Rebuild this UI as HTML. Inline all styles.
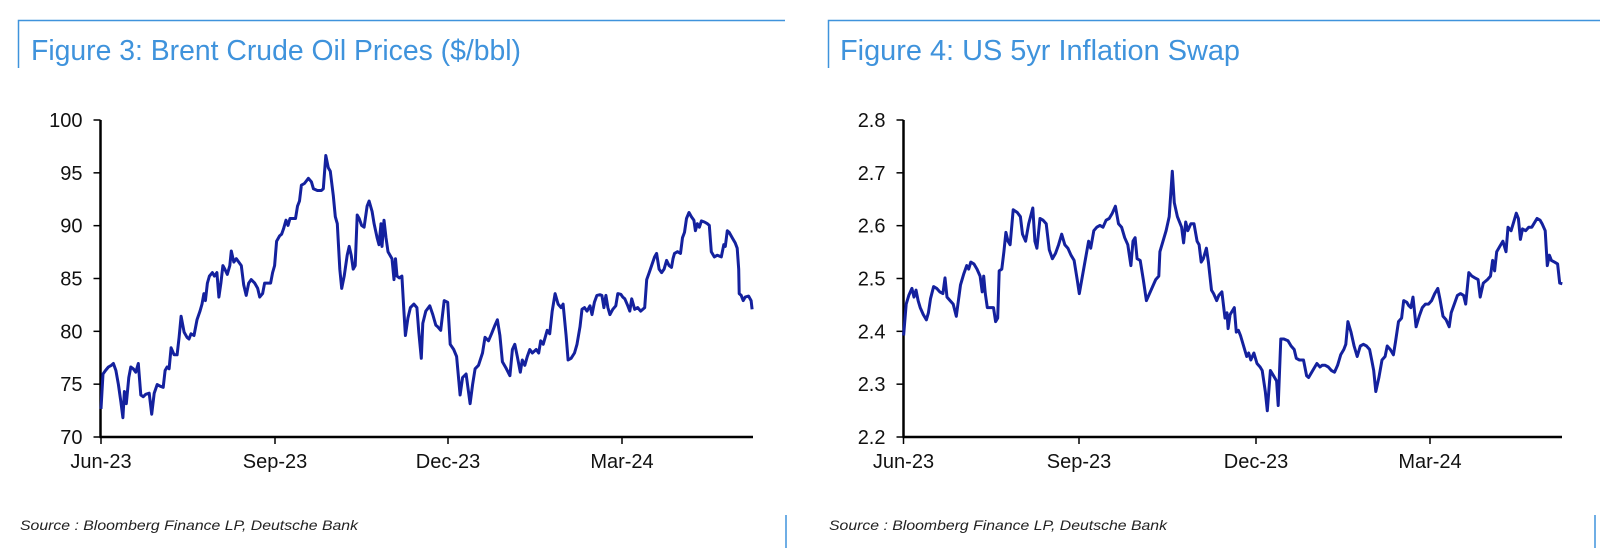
<!DOCTYPE html>
<html><head><meta charset="utf-8"><style>
html,body{margin:0;padding:0;background:#fff;width:1600px;height:548px;overflow:hidden}
svg{display:block}
text{font-family:"Liberation Sans",sans-serif}
</style></head><body>
<svg id="s" width="1600" height="548" viewBox="0 0 1600 548" xmlns="http://www.w3.org/2000/svg">
<path d="M18.5 68 V20.5 H785" stroke="#3f93dc" stroke-width="1.5" fill="none"/>
<path d="M828.5 68 V20.5 H1600" stroke="#3f93dc" stroke-width="1.5" fill="none"/>
<line x1="786" y1="515" x2="786" y2="548" stroke="#3f93dc" stroke-width="1.5"/>
<line x1="1595" y1="515" x2="1595" y2="548" stroke="#3f93dc" stroke-width="1.5"/>
<text x="31" y="60" font-size="29" fill="#3f93dc" textLength="490" lengthAdjust="spacingAndGlyphs">Figure 3: Brent Crude Oil Prices ($/bbl)</text>
<text x="840" y="60" font-size="29" fill="#3f93dc" textLength="400" lengthAdjust="spacingAndGlyphs">Figure 4: US 5yr Inflation Swap</text>
<text x="20" y="530" font-size="14" font-style="italic" fill="#222" textLength="338" lengthAdjust="spacingAndGlyphs">Source : Bloomberg Finance LP, Deutsche Bank</text>
<text x="829" y="530" font-size="14" font-style="italic" fill="#222" textLength="338" lengthAdjust="spacingAndGlyphs">Source : Bloomberg Finance LP, Deutsche Bank</text>
<g id="g"></g>
</svg>
<script>
var g=document.getElementById('g'),h='';
function axes(x0,x1,ylabels,xt){
  var top=120,bot=437,n=ylabels.length-1;
  h+='<line x1="'+x0+'" y1="'+top+'" x2="'+x0+'" y2="'+bot+'" stroke="#000" stroke-width="2.5"/>';
  h+='<line x1="'+(x0-1)+'" y1="'+bot+'" x2="'+x1+'" y2="'+bot+'" stroke="#000" stroke-width="2.5"/>';
  for(var i=0;i<=n;i++){var y=bot-(bot-top)*i/n;
    h+='<line x1="'+(x0-7)+'" y1="'+y+'" x2="'+x0+'" y2="'+y+'" stroke="#000" stroke-width="1.5"/>';
    h+='<text x="'+(x0-18)+'" y="'+(y+7)+'" font-size="20" text-anchor="end" fill="#111">'+ylabels[i]+'</text>';}
  var lab=['Jun-23','Sep-23','Dec-23','Mar-24'];
  for(var j=0;j<4;j++){var x=xt[j];
    h+='<line x1="'+x+'" y1="'+bot+'" x2="'+x+'" y2="'+(bot+7)+'" stroke="#000" stroke-width="1.5"/>';
    h+='<text x="'+x+'" y="'+(bot+31)+'" font-size="20" text-anchor="middle" fill="#111">'+lab[j]+'</text>';}
}
function line(pts,fx,fy){
  var d='';for(var i=0;i<pts.length;i+=2){d+=(i?'L':'M')+fx(pts[i]).toFixed(1)+' '+fy(pts[i+1]).toFixed(1);}
  h+='<path d="'+d+'" fill="none" stroke="#14219e" stroke-width="3" stroke-linejoin="round"/>';
}
axes(100.5,753,['70','75','80','85','90','95','100'],[101,275,448,622]);
axes(903.5,1562,['2.2','2.3','2.4','2.5','2.6','2.7','2.8'],[903.5,1079,1256,1430]);
var L=[203,1170,207,1070,212,1060,218,1050,224,1045,228,1040,233,1060,238,1100,243,1150,247,1195,250,1120,254,1155,259,1080,263,1050,268,1055,273,1065,278,1040,283,1130,288,1135,293,1128,300,1125,305,1185,310,1125,316,1100,322,1105,328,1108,332,1060,336,1050,340,1055,344,995,350,1015,356,1015,360,965,364,905,370,950,376,965,380,970,384,955,390,960,396,915,402,890,406,870,410,840,413,860,417,810,421,790,427,780,431,790,436,780,440,850,444,810,448,760,452,770,457,785,462,760,465,718,470,750,475,740,480,750,485,760,490,815,495,845,500,810,505,800,512,810,518,825,522,850,528,840,532,810,538,810,544,810,548,780,552,760,556,690,562,675,566,670,570,655,575,630,579,645,583,625,589,625,594,625,598,590,602,575,606,530,612,525,620,510,626,520,630,540,638,545,646,545,650,540,655,445,660,480,664,490,670,560,674,620,678,640,683,770,687,825,692,790,698,730,702,705,706,730,710,770,714,760,718,615,722,625,727,645,732,650,738,590,742,575,748,605,752,640,758,680,762,700,766,640,768,705,772,630,776,680,780,720,784,730,788,740,792,800,795,740,798,790,803,795,808,790,812,890,815,960,820,910,825,880,832,870,838,880,842,950,847,1025,850,925,856,890,864,875,870,900,876,930,880,935,886,945,893,860,900,865,905,985,912,1000,918,1020,925,1130,930,1080,937,1070,945,1155,950,1100,955,1055,962,1045,970,1010,975,965,982,975,988,955,995,930,1000,915,1005,960,1010,1035,1018,1055,1025,1075,1030,1000,1035,985,1040,1020,1046,1065,1050,1030,1055,1045,1060,1020,1065,1000,1070,1010,1078,1000,1083,1010,1087,975,1092,985,1096,965,1100,945,1105,955,1110,890,1116,840,1122,870,1128,880,1132,870,1138,960,1142,1030,1148,1025,1155,1010,1160,985,1166,935,1170,885,1175,880,1180,890,1186,875,1190,900,1195,865,1200,845,1206,843,1210,845,1214,880,1218,845,1222,880,1226,900,1232,885,1238,875,1242,840,1248,842,1252,850,1256,855,1262,875,1266,890,1270,855,1276,885,1282,880,1288,890,1296,880,1300,800,1305,780,1310,760,1316,735,1320,725,1325,770,1330,780,1335,770,1340,745,1345,760,1350,765,1353,740,1356,725,1362,720,1368,725,1372,680,1376,665,1380,625,1385,608,1390,620,1395,630,1398,660,1402,640,1406,650,1410,632,1416,635,1422,640,1426,645,1430,720,1436,735,1442,730,1450,735,1455,700,1458,705,1462,660,1466,665,1472,680,1478,695,1482,710,1485,770,1486,840,1490,845,1494,860,1498,850,1505,847,1510,860,1512,885];
line(L,function(x){return x/2.0103},function(y){return y/2.861});
var R=[220,960,225,870,230,845,236,825,240,850,244,830,248,860,252,880,258,900,264,915,268,895,272,855,278,820,284,825,290,835,296,840,300,795,304,850,310,860,316,870,322,905,326,860,330,815,336,785,342,760,346,770,350,750,356,755,362,770,368,790,372,835,375,790,378,840,382,880,388,880,394,880,398,920,402,910,405,775,410,770,414,720,418,665,422,690,426,700,432,600,440,608,446,620,450,670,456,690,462,640,470,595,474,690,478,710,484,625,490,630,496,640,502,715,508,740,514,725,520,700,526,670,532,700,538,710,544,730,550,745,556,800,560,840,566,790,572,740,578,690,582,710,588,660,594,650,600,645,606,650,612,630,618,625,624,610,630,590,636,640,642,650,648,680,654,700,660,760,664,690,668,680,672,740,678,745,684,800,690,860,696,840,702,820,708,800,714,790,716,720,722,690,728,660,734,620,740,490,744,580,750,620,758,650,762,695,766,635,770,660,776,640,782,640,788,690,792,700,796,750,800,740,806,710,810,750,816,830,820,840,826,860,830,845,836,835,842,910,846,895,848,940,852,900,856,890,860,880,864,950,868,945,872,960,878,990,884,1020,888,1010,892,1030,898,1010,904,1040,910,1050,914,1060,920,1120,924,1175,930,1060,936,1075,942,1090,945,1160,950,970,956,970,964,975,970,990,976,1000,980,1025,986,1030,994,1030,1000,1075,1004,1080,1010,1065,1016,1050,1020,1040,1026,1050,1030,1045,1036,1045,1042,1050,1048,1060,1054,1065,1060,1045,1066,1015,1072,1000,1076,985,1080,920,1086,950,1092,990,1098,1020,1104,990,1110,985,1116,990,1122,1000,1126,1030,1130,1060,1134,1120,1140,1080,1146,1030,1152,1020,1156,990,1162,1000,1168,1015,1172,980,1178,920,1184,910,1188,860,1194,865,1198,875,1202,880,1206,850,1212,935,1218,905,1224,880,1230,870,1236,870,1242,860,1248,840,1254,825,1258,855,1264,905,1270,915,1276,935,1280,895,1286,870,1292,845,1298,840,1304,845,1308,870,1314,780,1320,790,1326,795,1332,800,1336,850,1342,810,1350,800,1356,790,1360,745,1364,775,1368,720,1374,705,1380,690,1386,720,1390,650,1396,660,1400,640,1406,610,1410,625,1414,685,1418,655,1424,660,1430,650,1436,650,1440,640,1446,625,1452,630,1456,640,1462,660,1466,760,1470,730,1474,745,1480,750,1486,755,1490,810,1495,812];
line(R,function(x){return 790+x/1.9358},function(y){return y/2.861});
g.innerHTML=h;
</script>
</body></html>
